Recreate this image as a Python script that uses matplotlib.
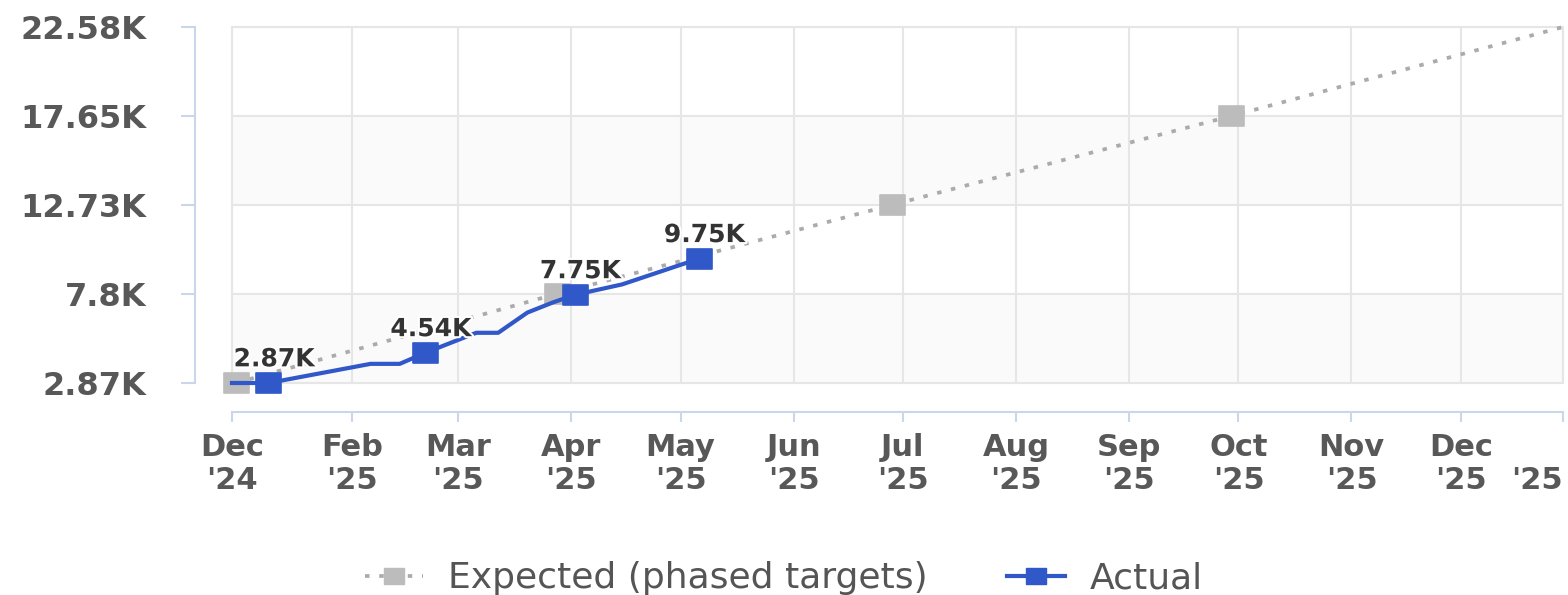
import matplotlib
matplotlib.use('Agg')
import matplotlib.pyplot as plt
import matplotlib.dates as mdates
import matplotlib.patheffects as pe
from matplotlib.path import Path
from matplotlib.patches import Rectangle
from matplotlib.lines import Line2D
import numpy as np

plt.rcParams['font.family'] = ['DejaVu Sans']

# ---------------- data ----------------
expected_dates = ['2025-01-01', '2025-03-30', '2025-06-30', '2025-10-01', '2025-12-31']
expected_values = [2870, 7800, 12730, 17650, 22580]

actual_dates = ['2024-12-31', '2025-01-10', '2025-02-07', '2025-02-15', '2025-02-22',
                '2025-03-08', '2025-03-14', '2025-03-22', '2025-03-29', '2025-04-04',
                '2025-04-17', '2025-05-08']
actual_values = [2870, 2870, 3930, 3930, 4540, 5650, 5650, 6770, 7330, 7750, 8330, 9750]
actual_marker_idx = [1, 4, 9, 11]
actual_labels = ['2.87K', '4.54K', '7.75K', '9.75K']

tick_dates = ['2024-12-31', '2025-02-02', '2025-03-03', '2025-04-03', '2025-05-03',
              '2025-06-03', '2025-07-03', '2025-08-03', '2025-09-03', '2025-10-03',
              '2025-11-03', '2025-12-03', '2025-12-31']
tick_labels = ["Dec\n'24", "Feb\n'25", "Mar\n'25", "Apr\n'25", "May\n'25", "Jun\n'25",
               "Jul\n'25", "Aug\n'25", "Sep\n'25", "Oct\n'25", "Nov\n'25", "Dec\n'25", "\n'25"]

y_ticks = [2870, 7797.5, 12725, 17652.5, 22580]
y_tick_labels = ['2.87K', '7.8K', '12.73K', '17.65K', '22.58K']

x_start, x_end = '2024-12-31', '2025-12-31'

# ---------------- style ----------------
BLUE = '#3158c9'
GRAY_MARK = '#bcbcbc'
GRAY_LINE = '#ababab'
GRID = '#e6e6e6'
AXIS = '#ccd6eb'
TXT = '#585858'
DOT = (0, (1.2, 2.6))

def to_num(ds):
    return mdates.date2num(np.array(ds, dtype='datetime64[D]'))

ratio = 1.25
rect = Path([(-ratio, -1), (ratio, -1), (ratio, 1), (-ratio, 1), (-ratio, -1)],
            [Path.MOVETO, Path.LINETO, Path.LINETO, Path.LINETO, Path.CLOSEPOLY])

W, H = 1568, 595
fig = plt.figure(figsize=(W / 100, H / 100), dpi=100)
ax = fig.add_axes([232 / W, 1 - 383 / H, (1563 - 232) / W, (383 - 27) / H])

ex = to_num(expected_dates)
axx = to_num(actual_dates)

ax.set_xlim(to_num([x_start])[0], to_num([x_end])[0])
ax.set_ylim(y_ticks[0], y_ticks[-1])

# alternate bands
for i in range(0, len(y_ticks) - 1, 2):
    ax.axhspan(y_ticks[i], y_ticks[i + 1], color='#fafafa', zorder=0, lw=0)

ax.grid(True, color=GRID, lw=1.5, zorder=1)
ax.set_axisbelow(True)

# expected series
ax.plot(ex, expected_values, color=GRAY_LINE, lw=2.7, linestyle=DOT,
        dash_capstyle='butt', marker=rect, markevery=[0, 1, 2, 3], ms=18,
        mfc=GRAY_MARK, mec=GRAY_MARK, mew=1.2, clip_on=False, zorder=3)

# actual series
ax.plot(axx, actual_values, color=BLUE, lw=3, solid_joinstyle='round',
        marker=rect, markevery=actual_marker_idx, ms=18, mfc=BLUE, mec=BLUE,
        mew=1.2, clip_on=False, zorder=4)

for idx, lab in zip(actual_marker_idx, actual_labels):
    ax.annotate(lab, (axx[idx], actual_values[idx]), xytext=(4, 12),
                textcoords='offset points', ha='center', va='baseline',
                fontsize=18, fontweight='bold', color='#333333', zorder=6,
                path_effects=[pe.withStroke(linewidth=3, foreground='white')])

# plot frame
ax.add_patch(Rectangle((0, 0), 1, 1, transform=ax.transAxes, fill=False,
                       ec=GRID, lw=1.5, zorder=2, clip_on=False))

for s in ['top', 'right']:
    ax.spines[s].set_visible(False)
ax.spines['left'].set_position(('outward', 26.6))
ax.spines['bottom'].set_position(('outward', 20.9))
for s in ['left', 'bottom']:
    ax.spines[s].set_color(AXIS)
    ax.spines[s].set_linewidth(1.5)

ax.set_yticks(y_ticks)
ax.set_yticklabels(y_tick_labels)
ax.set_xticks(to_num(tick_dates))
ax.set_xticklabels(tick_labels)
ax.tick_params(axis='y', direction='out', length=10, width=1.5, color=AXIS,
               pad=25, labelsize=23, labelcolor=TXT)
ax.tick_params(axis='x', direction='out', length=7, width=1.5, color=AXIS,
               pad=8, labelsize=22, labelcolor=TXT)
for t in ax.get_yticklabels() + ax.get_xticklabels():
    t.set_fontweight('bold')
ax.get_xticklabels()[-1].set_horizontalalignment('right')

# legend
h1 = Line2D([], [], color=GRAY_LINE, lw=2.7, linestyle=DOT, marker=rect,
            ms=15, mfc=GRAY_MARK, mec=GRAY_MARK)
h2 = Line2D([], [], color=BLUE, lw=3, marker=rect, ms=14, mfc=BLUE, mec=BLUE)
leg = fig.legend([h1, h2], ['Expected (phased targets)', 'Actual'], loc='center',
                 bbox_to_anchor=(0.5, 0.028), ncol=2, frameon=False, fontsize=26,
                 handlelength=1.6, handletextpad=0.7, columnspacing=2.2,
                 labelcolor='#555555')

fig.savefig('out.png', dpi=100)
